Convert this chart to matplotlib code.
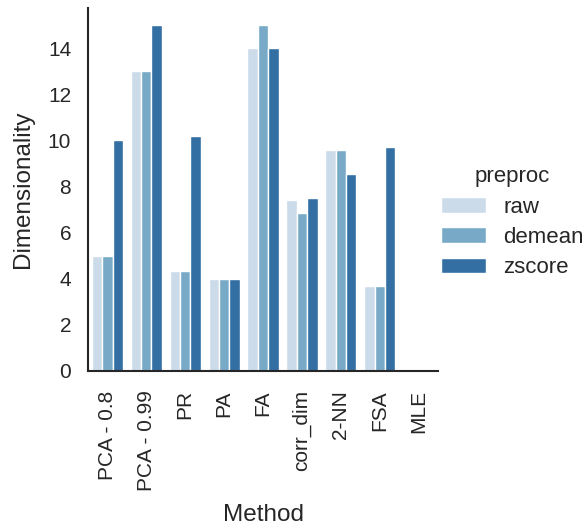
import matplotlib
matplotlib.use("Agg")
import matplotlib.pyplot as plt
import numpy as np
import pandas as pd
import seaborn as sns

methods = ["PCA - 0.8", "PCA - 0.99", "PR", "PA", "FA", "corr_dim", "2-NN", "FSA", "MLE"]
preprocs = ["raw", "demean", "zscore"]

raw_dim = [5.0, 13.0, 4.35, 4.0, 14.0, 7.4, 9.6, 3.7, np.nan]
demean_dim = [5.0, 13.0, 4.35, 4.0, 15.0, 6.85, 9.6, 3.7, np.nan]
zscore_dim = [10.0, 15.0, 10.2, 4.0, 14.0, 7.5, 8.55, 9.7, np.nan]

rows = []
for pre, vals in zip(preprocs, [raw_dim, demean_dim, zscore_dim]):
    for m, v in zip(methods, vals):
        rows.append({"Method": m, "preproc": pre, "Dimensionality": v})
df = pd.DataFrame(rows)

sns.set_theme(style="white", context="notebook")
plt.rcParams["font.family"] = ["Liberation Sans", "DejaVu Sans"]
plt.rcParams["axes.edgecolor"] = ".15"
plt.rcParams["axes.linewidth"] = 1.5

fig = plt.figure(figsize=(5.82, 5.29), dpi=100)
ax = fig.add_axes([0.151, 0.299, 0.602, 0.686])
sns.barplot(data=df, x="Method", y="Dimensionality", hue="preproc",
            order=methods, hue_order=preprocs, palette="Blues", ax=ax)
sns.despine(ax=ax)

ax.set_ylim(0, 15.75)
ax.set_yticks(range(0, 15, 2))
ax.tick_params(axis="both", labelsize=15, length=0, pad=12)
ax.tick_params(axis="x", pad=14)
plt.setp(ax.get_xticklabels(), rotation=90)
ax.set_xlabel("Method", fontsize=17.5, labelpad=9)
ax.set_ylabel("Dimensionality", fontsize=17.5, labelpad=10)

handles, labels = ax.get_legend_handles_labels()
ax.get_legend().remove()
leg = fig.legend(handles, labels, title="preproc", loc="center left",
                 bbox_to_anchor=(0.724, 0.58), frameon=False, fontsize=16,
                 title_fontsize=16, labelspacing=0.42)

fig.savefig("out.png", dpi=100)
